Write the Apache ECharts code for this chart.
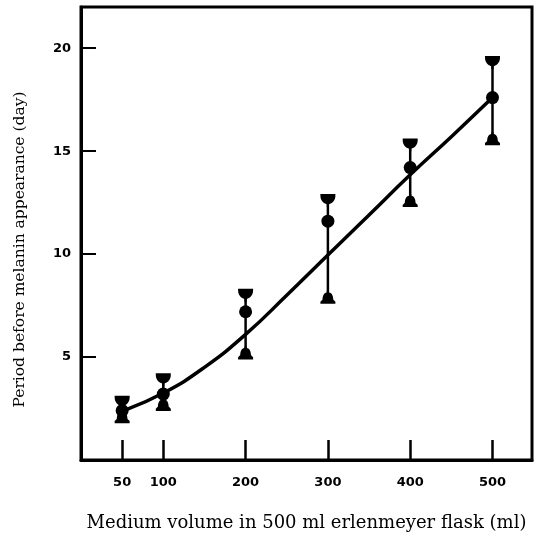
<!DOCTYPE html>
<html>
<head>
<meta charset="utf-8">
<script src="https://cdn.jsdelivr.net/npm/echarts@6/dist/echarts.min.js"></script>
<style>html,body{margin:0;padding:0;background:#fff;}#c{width:540px;height:537px;}</style>
</head>
<body>
<div id="c"></div>
<script>
// Data
var volumes = [50, 100, 200, 300, 400, 500];
var meanDays = [2.4, 3.2, 7.2, 11.6, 14.2, 17.6];
var upperDays = [2.8, 3.9, 8.0, 12.6, 15.3, 19.3];
var lowerDays = [2.1, 2.7, 5.2, 7.9, 12.6, 15.6];
var curveX = [55, 100, 150, 200, 250, 300, 350, 400, 450, 500];
var curveY = [2.45, 3.25, 4.5, 6.1, 8.0, 9.95, 11.9, 13.85, 15.7, 17.6];
var xTickLabels = [50, 100, 200, 300, 400, 500];
var yTickLabels = [5, 10, 15, 20];

var cupPath = 'path://M0,0 L14,0 L14,1.6 C14,6 11,8.5 8,9.5 L8,12 L6,12 L6,9.5 C3,8.5 0,6 0,1.6 Z';
var bellPath = 'path://M6,0 L8,0 L8,1.5 C11,2 12,5 12,8 L14,10 L14,12 L0,12 L0,10 L2,8 C2,5 3,2 6,1.5 Z';

var chart = echarts.init(document.getElementById('c'), null, {renderer: 'canvas'});
var serif = 'DejaVu Serif';
chart.setOption({
  animation: false,
  backgroundColor: '#fff',
  grid: {left: 81, right: 8, top: 7, bottom: 76, show: true, borderColor: '#000', borderWidth: 3, backgroundColor: 'transparent'},
  xAxis: {
    type: 'value', min: 0, max: 548,
    name: 'Medium volume in 500 ml erlenmeyer flask (ml)',
    nameLocation: 'middle', nameGap: 54,
    nameTextStyle: {fontFamily: serif, fontSize: 18, color: '#000'},
    axisLine: {show: true, lineStyle: {color: '#000', width: 3}},
    axisTick: {show: true, inside: true, length: 20, lineStyle: {color: '#000', width: 2.5}, customValues: xTickLabels},
    axisLabel: {customValues: xTickLabels, margin: 16, fontFamily: 'DejaVu Sans', fontWeight: 'bold', fontSize: 13, color: '#000'},
    splitLine: {show: false}
  },
  yAxis: {
    type: 'value', min: 0, max: 22,
    name: 'Period before melanin appearance (day)',
    nameLocation: 'middle', nameGap: 53,
    nameTextStyle: {fontFamily: serif, fontSize: 15.5, color: '#000', padding: [0, 32, 0, 0]},
    axisLine: {show: true, lineStyle: {color: '#000', width: 3}},
    axisTick: {show: true, inside: true, length: 15, lineStyle: {color: '#000', width: 2}, customValues: yTickLabels},
    axisLabel: {customValues: yTickLabels, margin: 10, fontFamily: 'DejaVu Sans', fontWeight: 'bold', fontSize: 13, color: '#000'},
    splitLine: {show: false}
  },
  series: [
    {
      type: 'line', smooth: true, showSymbol: false, z: 2,
      data: curveX.map(function (x, i) { return [x, curveY[i]]; }),
      lineStyle: {color: '#000', width: 3.5}
    },
    {
      type: 'custom', z: 3,
      data: volumes.map(function (x, i) { return [x, lowerDays[i], upperDays[i]]; }),
      renderItem: function (params, api) {
        var p1 = api.coord([api.value(0), api.value(1)]);
        var p2 = api.coord([api.value(0), api.value(2)]);
        return {type: 'line', shape: {x1: p1[0], y1: p1[1], x2: p2[0], y2: p2[1]}, style: {stroke: '#000', lineWidth: 2.5}};
      }
    },
    {
      type: 'scatter', z: 4, symbol: cupPath, symbolSize: [15, 13],
      data: volumes.map(function (x, i) { return [x, upperDays[i]]; }),
      itemStyle: {color: '#000', opacity: 1}
    },
    {
      type: 'scatter', z: 4, symbol: bellPath, symbolSize: [15, 13],
      data: volumes.map(function (x, i) { return [x, lowerDays[i]]; }),
      itemStyle: {color: '#000', opacity: 1}
    },
    {
      type: 'scatter', z: 5, symbol: 'circle', symbolSize: 13,
      data: volumes.map(function (x, i) { return [x, meanDays[i]]; }),
      itemStyle: {color: '#000', opacity: 1}
    }
  ]
});
</script>
</body>
</html>
